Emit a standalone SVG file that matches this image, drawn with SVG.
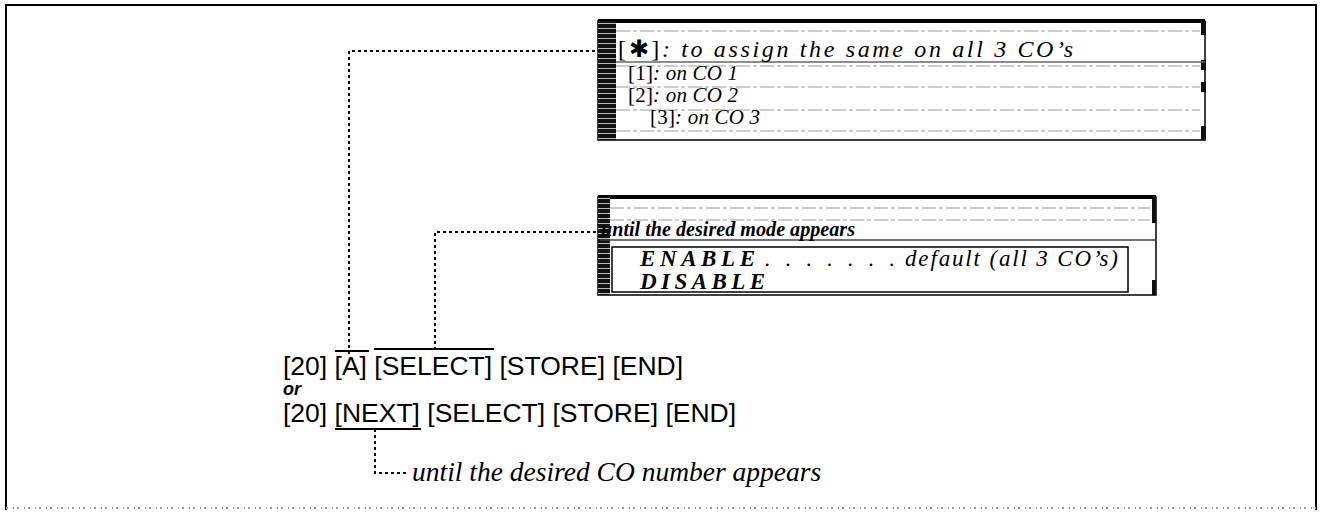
<svg xmlns="http://www.w3.org/2000/svg" width="1320" height="514" viewBox="0 0 1320 514">
<defs>
<pattern id="stripes" width="6" height="5" patternUnits="userSpaceOnUse">
<rect width="6" height="5" fill="#111"/>
<rect y="3" width="6" height="1" fill="#bbb"/>
</pattern>
</defs>
<style>
.frame{fill:none;stroke:#000;stroke-width:2}
.box{fill:#fff;stroke:#000;stroke-width:1.5}
.rule{stroke:#999;stroke-width:1;stroke-dasharray:14 3 4 3}
.bar{fill:url(#stripes)}
.edge{fill:#111}
.dot{fill:none;stroke:#000;stroke-width:2;stroke-dasharray:3 3}
.key{font-family:"Liberation Sans",Arial,sans-serif;font-size:26.5px;fill:#000}
.it{font-family:"Liberation Serif","Times New Roman",serif;font-style:italic;fill:#000}
.itb{font-family:"Liberation Serif","Times New Roman",serif;font-style:italic;font-weight:bold;fill:#000}
.over{stroke:#000;stroke-width:2}
</style>
<rect width="1320" height="514" fill="#fff"/>
<path class="frame" d="M6 510 V5 H1316 V510"/>
<line x1="6" y1="508" x2="1316" y2="508" stroke="#999" stroke-width="2" stroke-dasharray="2 5 1 3"/>

<g id="connectors">
<path class="dot" d="M349 354 V51 H596"/>
<path class="dot" d="M435 350 V232 H596"/>
<path class="dot" d="M375 429 V473 H408"/>
</g>

<g id="box-co">
<rect class="box" x="598" y="21" width="607" height="119"/>
<line x1="598" y1="21" x2="1205" y2="21" stroke="#000" stroke-width="4"/>
<rect class="bar" x="598" y="21" width="18" height="119"/>
<rect class="edge" x="1201" y="21" width="5" height="14"/>
<rect class="edge" x="1201" y="60" width="5" height="10"/>
<rect class="edge" x="1201" y="82" width="5" height="10"/>
<rect class="edge" x="1201" y="126" width="5" height="14"/>
<line class="rule" x1="616" y1="31" x2="1200" y2="31"/>
<line x1="616" y1="62" x2="1205" y2="62" stroke="#666" stroke-width="1.5"/>
<line class="rule" x1="616" y1="66" x2="1200" y2="66"/>
<line class="rule" x1="616" y1="87" x2="1200" y2="87"/>
<line class="rule" x1="616" y1="110" x2="1200" y2="110"/>
<line class="rule" x1="616" y1="131" x2="1200" y2="131"/>
<text class="it" x="618" y="57" style="font-size:24px" textLength="455" lengthAdjust="spacing"><tspan font-style="normal">[✱]</tspan>: to assign the same on all 3 CO’s</text>
<text class="it" x="628" y="80" style="font-size:21px" textLength="110" lengthAdjust="spacing"><tspan font-style="normal">[1]</tspan>: on CO 1</text>
<text class="it" x="628" y="102" style="font-size:21px" textLength="110" lengthAdjust="spacing"><tspan font-style="normal">[2]</tspan>: on CO 2</text>
<text class="it" x="650" y="124" style="font-size:21px" textLength="110" lengthAdjust="spacing"><tspan font-style="normal">[3]</tspan>: on CO 3</text>
</g>

<g id="box-mode">
<rect class="box" x="598" y="197" width="558" height="98"/>
<line x1="598" y1="197" x2="1156" y2="197" stroke="#000" stroke-width="4"/>
<rect class="bar" x="598" y="197" width="12" height="98"/>
<rect class="edge" x="1152" y="197" width="4" height="26"/>
<rect class="edge" x="1152" y="280" width="4" height="15"/>
<line class="rule" x1="610" y1="208" x2="1150" y2="208"/>
<line class="rule" x1="610" y1="220" x2="1150" y2="220"/>
<line x1="600" y1="240" x2="1156" y2="240" stroke="#444" stroke-width="1.5"/>
<rect x="612" y="247" width="516" height="45" fill="none" stroke="#000" stroke-width="1.5"/>
<text class="itb" x="601" y="236" style="font-size:22px" textLength="254" lengthAdjust="spacingAndGlyphs">until the desired mode appears</text>
<text class="itb" x="640" y="266" style="font-size:23px" textLength="115" lengthAdjust="spacing">ENABLE</text>
<text class="it" x="765" y="266" style="font-size:22px" textLength="130" lengthAdjust="spacing">. . . . . . .</text>
<text class="it" x="905" y="266" style="font-size:23px" textLength="213" lengthAdjust="spacing">default (all 3 CO’s)</text>
<text class="itb" x="640" y="289" style="font-size:23px" textLength="125" lengthAdjust="spacing">DISABLE</text>
</g>

<g id="keys">
<text class="key" x="283" y="375">[20] [A] [SELECT] [STORE] [END]</text>
<line class="over" x1="335" y1="351" x2="369" y2="351"/>
<line class="over" x1="374" y1="349" x2="494" y2="349"/>
<text x="283" y="395" font-family="Liberation Sans,Arial,sans-serif" font-style="italic" font-weight="bold" font-size="18">or</text>
<text class="key" x="283" y="422">[20] [NEXT] [SELECT] [STORE] [END]</text>
<line class="over" x1="335" y1="429" x2="421" y2="429"/>
</g>

<g id="note-co">
<text class="it" x="412" y="481" style="font-size:27.5px">until the desired CO number appears</text>
</g>
</svg>
